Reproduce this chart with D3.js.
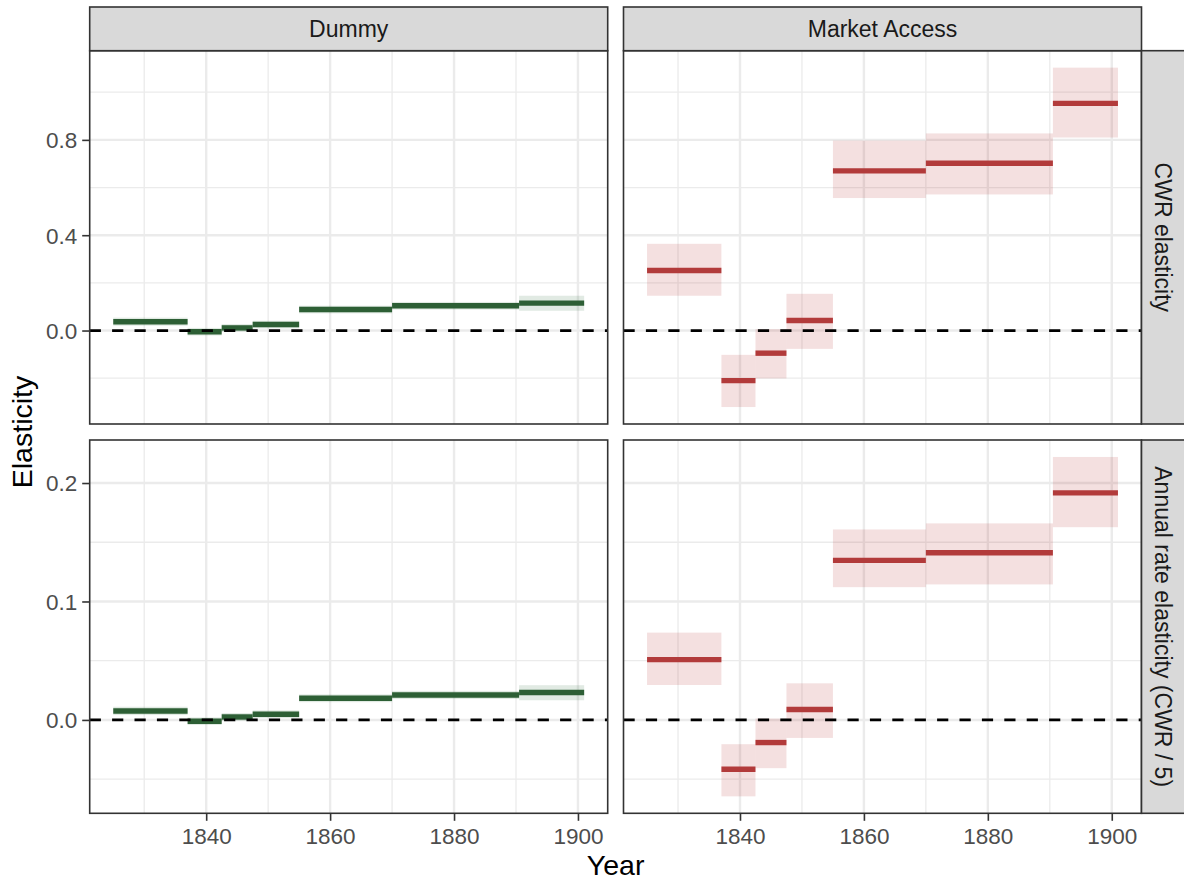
<!DOCTYPE html>
<html>
<head>
<meta charset="utf-8">
<script src="https://cdn.jsdelivr.net/npm/d3@7"></script>
<style>
  html, body { margin: 0; padding: 0; background: #ffffff; }
  svg { display: block; font-family: "Liberation Sans", Arial, Helvetica, sans-serif; }
</style>
</head>
<body>
<svg id="chart" width="1184" height="881"></svg>
<script>
// ---- Data -------------------------------------------------------------
const facetCols = ["Dummy", "Market Access"];
const facetRows = ["CWR elasticity", "Annual rate elasticity (CWR / 5)"];

// period boundaries (years)
const periodStart = [1825, 1837, 1842.5, 1847.5, 1855, 1870, 1890.5];
const periodEnd   = [1837, 1842.5, 1847.5, 1855, 1870, 1890.5, 1901];

// Dummy specification, CWR elasticity
const dummyCwrEst = [0.037, -0.005, 0.011, 0.025, 0.088, 0.104, 0.115];
const dummyCwrLo  = [0.020, -0.021, -0.005, 0.009, 0.072, 0.088, 0.083];
const dummyCwrHi  = [0.054, 0.011, 0.027, 0.041, 0.104, 0.120, 0.146];

// Dummy specification, annual rate elasticity
const dummyAnnEst = [0.0076, -0.0011, 0.0025, 0.0048, 0.0183, 0.0211, 0.0231];
const dummyAnnLo  = [0.0041, -0.0043, -0.0008, 0.0015, 0.0150, 0.0177, 0.0166];
const dummyAnnHi  = [0.0111, 0.0021, 0.0058, 0.0081, 0.0216, 0.0245, 0.0293];

// Market access specification, CWR elasticity
const maCwrEst = [0.252, -0.210, -0.095, 0.042, 0.670, 0.702, 0.953];
const maCwrLo  = [0.146, -0.321, -0.201, -0.077, 0.556, 0.571, 0.810];
const maCwrHi  = [0.364, -0.102, 0.006, 0.154, 0.797, 0.827, 1.103];

// Market access specification, annual rate elasticity
const maAnnEst = [0.0509, -0.0416, -0.0191, 0.0088, 0.1347, 0.1411, 0.1917];
const maAnnLo  = [0.0295, -0.0645, -0.0407, -0.0152, 0.1121, 0.1144, 0.1627];
const maAnnHi  = [0.0737, -0.0205, 0.0012, 0.0309, 0.1608, 0.1659, 0.2220];

// axis breaks
const xMajor = [1840, 1860, 1880, 1900];
const xMinor = [1830, 1850, 1870, 1890];
const yMajorTop = [0, 0.4, 0.8];
const yMinorTop = [-0.2, 0.2, 0.6, 1.0];
const yMajorBottom = [0, 0.1, 0.2];
const yMinorBottom = [-0.05, 0.05, 0.15];

// ---- Build panel records ------------------------------------------------
function rowsOf(est, lo, hi) {
  return est.map((v, i) => ({ start: periodStart[i], end: periodEnd[i], est: v, lo: lo[i], hi: hi[i] }));
}
const panels = [
  { col: 0, row: 0, data: rowsOf(dummyCwrEst, dummyCwrLo, dummyCwrHi) },
  { col: 1, row: 0, data: rowsOf(maCwrEst, maCwrLo, maCwrHi) },
  { col: 0, row: 1, data: rowsOf(dummyAnnEst, dummyAnnLo, dummyAnnHi) },
  { col: 1, row: 1, data: rowsOf(maAnnEst, maAnnLo, maAnnHi) }
];
const colColors = [
  { line: "#2d5f35", fill: "#2d6b36" },
  { line: "#b23b3b", fill: "#b22222" }
];

// ---- Layout -----------------------------------------------------------
const panelW = 518, panelH = 373.3;
const colX = [89.7, 623.5];
const rowY = [50.7, 440];
const stripSize = 43.7;
const tickFont = 22.5, stripFont = 23, titleFont = 28.5;

const svg = d3.select("#chart");

// continuous scale with ggplot-style 5% expansion
function expanded(vals) {
  const [a, b] = d3.extent(vals);
  const pad = (b - a) * 0.05;
  return [a - pad, b + pad];
}

const x = d3.scaleLinear()
  .domain(expanded(periodStart.concat(periodEnd)))
  .range([0, panelW]);

const yScales = [0, 1].map(r => {
  const vals = [0];
  panels.filter(p => p.row === r).forEach(p => p.data.forEach(d => vals.push(d.lo, d.hi)));
  return d3.scaleLinear().domain(expanded(vals)).range([panelH, 0]);
});
const yMajor = [yMajorTop, yMajorBottom];
const yMinor = [yMinorTop, yMinorBottom];
const yFmt = [d3.format(".1f"), d3.format(".1f")];

// ---- Panels -----------------------------------------------------------
panels.forEach(p => {
  const g = svg.append("g").attr("transform", `translate(${colX[p.col]},${rowY[p.row]})`);
  const y = yScales[p.row];
  const c = colColors[p.col];

  g.append("rect").attr("width", panelW).attr("height", panelH).attr("fill", "#ffffff");

  // minor grid
  g.selectAll(".gminx").data(xMinor).join("line")
    .attr("x1", d => x(d)).attr("x2", d => x(d)).attr("y1", 0).attr("y2", panelH)
    .attr("stroke", "#ebebeb").attr("stroke-width", 1.3);
  g.selectAll(".gminy").data(yMinor[p.row]).join("line")
    .attr("y1", d => y(d)).attr("y2", d => y(d)).attr("x1", 0).attr("x2", panelW)
    .attr("stroke", "#ebebeb").attr("stroke-width", 1.3);
  // major grid
  g.selectAll(".gmajx").data(xMajor).join("line")
    .attr("x1", d => x(d)).attr("x2", d => x(d)).attr("y1", 0).attr("y2", panelH)
    .attr("stroke", "#ebebeb").attr("stroke-width", 2.4);
  g.selectAll(".gmajy").data(yMajor[p.row]).join("line")
    .attr("y1", d => y(d)).attr("y2", d => y(d)).attr("x1", 0).attr("x2", panelW)
    .attr("stroke", "#ebebeb").attr("stroke-width", 2.4);

  // confidence bands
  g.selectAll(".band").data(p.data).join("rect")
    .attr("x", d => x(d.start)).attr("width", d => x(d.end) - x(d.start))
    .attr("y", d => y(d.hi)).attr("height", d => y(d.lo) - y(d.hi))
    .attr("fill", c.fill).attr("fill-opacity", 0.14);

  // point estimates
  g.selectAll(".est").data(p.data).join("line")
    .attr("x1", d => x(d.start)).attr("x2", d => x(d.end))
    .attr("y1", d => y(d.est)).attr("y2", d => y(d.est))
    .attr("stroke", c.line).attr("stroke-width", 5.4);

  // zero reference
  g.append("line")
    .attr("x1", 0).attr("x2", panelW).attr("y1", y(0)).attr("y2", y(0))
    .attr("stroke", "#000000").attr("stroke-width", 2.8)
    .attr("stroke-dasharray", "11.2,11.2");

  // border
  g.append("rect").attr("width", panelW).attr("height", panelH)
    .attr("fill", "none").attr("stroke", "#333333").attr("stroke-width", 1.6);
});

// ---- Axes -------------------------------------------------------------
// y axes (left column only)
[0, 1].forEach(r => {
  const ax = d3.axisLeft(yScales[r]).tickValues(yMajor[r]).tickFormat(yFmt[r])
    .tickSize(7.5).tickPadding(5);
  const g = svg.append("g").attr("transform", `translate(${colX[0]},${rowY[r]})`).call(ax);
  g.select(".domain").remove();
  g.selectAll(".tick line").attr("stroke", "#333333").attr("stroke-width", 1.6);
  g.selectAll(".tick text").attr("fill", "#4d4d4d").attr("font-size", tickFont)
    .attr("font-family", "Liberation Sans, Arial, sans-serif")
    .attr("dy", "0.35em");
});

// x axes (bottom row only)
[0, 1].forEach(cI => {
  const ax = d3.axisBottom(x).tickValues(xMajor).tickFormat(d3.format("d"))
    .tickSize(7.5).tickPadding(7);
  const g = svg.append("g").attr("transform", `translate(${colX[cI]},${rowY[1] + panelH})`).call(ax);
  g.select(".domain").remove();
  g.selectAll(".tick line").attr("stroke", "#333333").attr("stroke-width", 1.6);
  g.selectAll(".tick text").attr("fill", "#4d4d4d").attr("font-size", tickFont)
    .attr("font-family", "Liberation Sans, Arial, sans-serif");
});

// ---- Strips -----------------------------------------------------------
facetCols.forEach((name, i) => {
  const g = svg.append("g").attr("transform", `translate(${colX[i]},${rowY[0] - stripSize})`);
  g.append("rect").attr("width", panelW).attr("height", stripSize)
    .attr("fill", "#d9d9d9").attr("stroke", "#333333").attr("stroke-width", 1.6);
  g.append("text").attr("x", panelW / 2).attr("y", 30.3)
    .attr("text-anchor", "middle").attr("font-size", stripFont).attr("fill", "#1a1a1a")
    .text(name);
});

facetRows.forEach((name, i) => {
  const sx = colX[1] + panelW;
  const g = svg.append("g").attr("transform", `translate(${sx},${rowY[i]})`);
  g.append("rect").attr("width", stripSize).attr("height", panelH)
    .attr("fill", "#d9d9d9").attr("stroke", "#333333").attr("stroke-width", 1.6);
  g.append("text")
    .attr("transform", `translate(${stripSize - 30.3},${panelH / 2}) rotate(90)`)
    .attr("text-anchor", "middle").attr("font-size", stripFont).attr("fill", "#1a1a1a")
    .text(name);
});

// ---- Axis titles ------------------------------------------------------
svg.append("text")
  .attr("x", (colX[0] + colX[1] + panelW) / 2).attr("y", 875)
  .attr("text-anchor", "middle").attr("font-size", titleFont).attr("fill", "#000000")
  .text("Year");

svg.append("text")
  .attr("transform", `translate(31.5,${(rowY[0] + rowY[1] + panelH) / 2}) rotate(-90)`)
  .attr("text-anchor", "middle").attr("font-size", titleFont).attr("fill", "#000000")
  .text("Elasticity");
</script>
</body>
</html>
